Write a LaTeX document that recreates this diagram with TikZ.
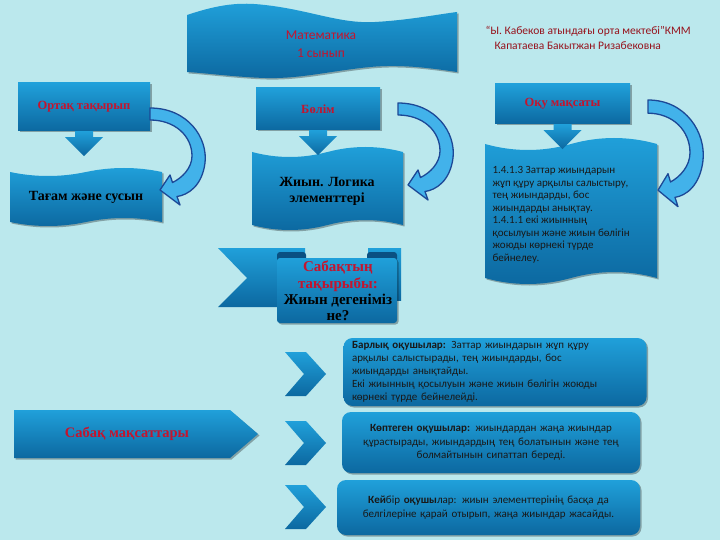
\documentclass[tikz,border=0pt]{standalone}
\usepackage{fontspec}
\setmainfont{Liberation Serif}
\newfontfamily\calfont{Carlito}
\usetikzlibrary{calc,shadows}

\definecolor{slidebg}{RGB}{187,232,237}
\definecolor{bluetop}{RGB}{32,160,218}
\definecolor{bluebot}{RGB}{12,104,160}
\definecolor{folddark}{RGB}{10,80,130}
\definecolor{redtext}{RGB}{196,20,46}
\definecolor{schoolred}{RGB}{150,18,28}
\definecolor{bendfill}{RGB}{66,178,234}
\definecolor{bendline}{RGB}{28,72,150}

\tikzset{
  blueshade/.style={top color=bluetop, bottom color=bluebot},
  softshadow/.style={drop shadow={shadow xshift=1.5pt, shadow yshift=-1.5pt, opacity=0.3, fill=black}},
  headbox/.style={rectangle, blueshade, softshadow, inner sep=0pt,
    font=\bfseries\fontsize{12.5}{14}\selectfont, text=redtext},
  doctext/.style={font=\bfseries\fontsize{14}{16}\selectfont, text=black, align=center},
  goalbox/.style={rounded corners=9pt, blueshade, softshadow, inner sep=0pt,
    font=\calfont\fontsize{11}{13.5}\selectfont, text=black!90, text width=286pt},
  bendarrow/.pic={
    \path[draw=bendline, fill=bendfill, line width=1.3pt, line join=round]
      (0,0) .. controls (38,0) and (58,30) .. (55,55)
      .. controls (52,78) and (38,87) .. (27,88.5)
      -- (30,97) -- (10,82) -- (20,67) -- (22.5,74.5)
      .. controls (32,70) and (42,60) .. (42,48)
      .. controls (42,28) and (25,12) .. (0,12) -- cycle;
  }
}

% punched tape shape: left, right, top, bottom, wave height
\newcommand{\tapeshape}[5]{%
  \shade[blueshade, softshadow]
    (#1,#3) .. controls ({#1+(#2-#1)/6},{#3+4*#5/3}) and ({#1+(#2-#1)/3},{#3+4*#5/3}) .. ({(#1+#2)/2},#3)
    .. controls ({#1+2*(#2-#1)/3},{#3-4*#5/3}) and ({#1+5*(#2-#1)/6},{#3-4*#5/3}) .. (#2,#3)
    -- (#2,#4)
    .. controls ({#2-(#2-#1)/6},{#4-4*#5/3}) and ({#2-(#2-#1)/3},{#4-4*#5/3}) .. ({(#1+#2)/2},#4)
    .. controls ({#1+(#2-#1)/3},{#4+4*#5/3}) and ({#1+(#2-#1)/6},{#4+4*#5/3}) .. (#1,#4) -- cycle;}

\begin{document}
\begin{tikzpicture}[x=1pt, y=-1pt]
\useasboundingbox (0,0) rectangle (720,540);
\fill[slidebg] (0,0) rectangle (720,540);

% title banner
\shade[blueshade, softshadow] (187,15) .. controls (220,4) and (240,2) .. (265,5)
  .. controls (310,10) and (340,24) .. (375,22) .. controls (410,20) and (440,14) .. (457,12)
  -- (457,72) .. controls (430,68) and (400,64) .. (370,67)
  .. controls (330,71) and (300,79) .. (265,78) .. controls (235,77) and (205,73) .. (187,72) -- cycle;
\node[font=\calfont\fontsize{13.5}{17.5}\selectfont, text=redtext, align=center] (title) at (321,44)
  {Математика\\1 сынып};
\node[font=\calfont\fontsize{11.5}{15}\selectfont, text=schoolred, align=left, anchor=west] (school) at (482,37.5)
  {“Ы. Кабеков атындағы орта мектебі”КММ\\\hspace*{9pt}Капатаева Бакытжан Ризабековна};

% three columns
\tapeshape{10}{162}{172}{222}{4}
\tapeshape{252}{403}{152}{225}{5}
\tapeshape{485}{657}{144}{278}{6}

\node[headbox, minimum width=132, minimum height=48] (ortaq) at (84,107) {Ортақ тақырып};
\node[headbox, minimum width=124, minimum height=42] (bolim) at (318,109) {Бөлім};
\node[headbox, minimum width=135, minimum height=40] (oqu) at (562.5,104) {Оқу мақсаты};

\foreach \n in {ortaq,bolim,oqu}
  \shade[blueshade] ($(\n.south)+(-9,0)$) -- ++(18,0) -- ++(0,6) -- ++(10,0)
    -- ++(-19,19) -- ++(-19,-19) -- ++(10,0) -- cycle;

\pic at (150,108) {bendarrow};
\pic at (398,103) {bendarrow};
\pic[yscale=1.1] at (648,100) {bendarrow};

\node[doctext] (tagam) at (86,197) {Тағам және сусын};
\node[doctext] (jiyn) at (327,191) {Жиын. Логика\\элементтері};
\node[font=\calfont\fontsize{11}{12.5}\selectfont, text=black!90, align=left, anchor=north west] (oqutext) at (489,163)
  {1.4.1.3 Заттар жиындарын\\жұп құру арқылы салыстыру,\\тең жиындарды, бос\\жиындарды анықтау.\\
   1.4.1.1 екі жиынның\\қосылуын және жиын бөлігін\\жоюды көрнекі түрде\\бейнелеу.};

% lesson topic ribbon
\shade[blueshade] (218,248) -- (305,248) -- (305,307) -- (218,307) -- (247,278) -- cycle;
\shade[blueshade] (368,248) -- (401,248) -- (401,300) -- (368,300) -- cycle;
\fill[folddark, rounded corners=3pt] (277,252) rectangle (306,262);
\fill[folddark, rounded corners=3pt] (367,252) rectangle (397,262);
\shade[blueshade, softshadow, rounded corners=3pt] (277,258) rectangle (397,323);
\node[font=\bfseries\fontsize{15}{16.3}\selectfont, align=center] (taqyryp) at (338,291)
  {\textcolor{redtext}{Сабақтың}\\\textcolor{redtext}{тақырыбы:}\\Жиын дегеніміз\\не?};

% lesson goals
\shade[blueshade, softshadow] (14,410) -- (230,410) -- (258,434) -- (230,458) -- (14,458) -- cycle;
\node[font=\bfseries\fontsize{14.5}{16}\selectfont, text=redtext] (maqsat) at (127,434) {Сабақ мақсаттары};

\foreach \cy in {374,443,507}
  \shade[blueshade] (285,{\cy-22}) -- (306,{\cy-22}) -- (326,\cy) -- (306,{\cy+22})
    -- (285,{\cy+22}) -- (304,\cy) -- cycle;

\node[goalbox, minimum width=303, minimum height=68, align=left,
  font=\calfont\fontsize{11}{13}\selectfont] (all) at (495,372)
  {\textbf{Барлық оқушылар:} Заттар  жиындарын жұп құру\\арқылы салыстырады, тең жиындарды, бос\\
   жиындарды анықтайды.\\Екі жиынның қосылуын және жиын бөлігін жоюды\\көрнекі түрде бейнелейді.};
\node[goalbox, minimum width=298, minimum height=61, align=center] (most) at (491,442.5)
  {\textbf{Көптеген оқушылар:} жиындардан жаңа жиындар\\құрастырады, жиындардың тең болатынын және тең\\
   болмайтынын сипаттап береді.};
\node[goalbox, minimum width=303, minimum height=55, align=center] (some) at (488.5,507.5)
  {\textbf{Кей}бір \textbf{оқушы}лар: жиын  элементтерінің басқа да\\белгілеріне қарай отырып, жаңа жиындар жасайды.};
\end{tikzpicture}
\end{document}
